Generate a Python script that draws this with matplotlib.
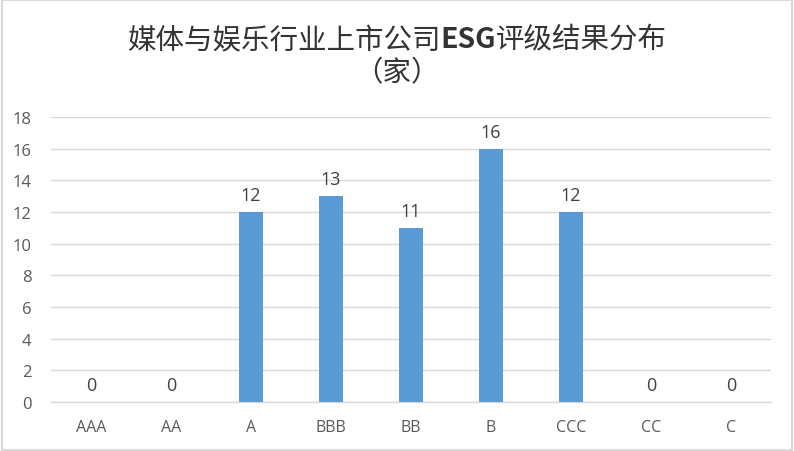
import matplotlib
matplotlib.use("Agg")
import matplotlib.pyplot as plt
from matplotlib.patches import Rectangle

plt.rcParams['font.family'] = ['Noto Sans CJK SC', 'DejaVu Sans']

categories = ["AAA", "AA", "A", "BBB", "BB", "B", "CCC", "CC", "C"]
values = [0, 0, 12, 13, 11, 16, 12, 0, 0]
yticks = [0, 2, 4, 6, 8, 10, 12, 14, 16, 18]
title_parts = [("媒体与娱乐行业上市公司", "normal"), ("ESG", "bold"), ("评级结果分布", "normal")]
subtitle = "（家）"

fig = plt.figure(figsize=(7.94, 4.52), dpi=100)
ax = fig.add_axes([51/794, 1-403/452, (771-51)/794, (403-118)/452])

x = list(range(len(categories)))
ax.bar(x, values, width=0.29, color="#5b9bd5", zorder=3)
for xi, v in zip(x, values):
    ax.text(xi, v + 0.5, str(v), ha="center", va="bottom", fontsize=13, color="#404040",
            family=['Open Sans', 'DejaVu Sans'])

ax.set_xlim(-0.5, len(categories) - 0.5)
ax.set_ylim(0, 18)
ax.set_yticks(yticks)
ax.set_yticklabels([str(t) for t in yticks], fontsize=12, color="#595959",
                   family=['Open Sans', 'DejaVu Sans'])
ax.set_xticks(x)
ax.set_xticklabels(categories, fontsize=11.5, color="#595959", family=['Open Sans', 'DejaVu Sans'])
ax.tick_params(axis='both', length=0)
ax.tick_params(axis='x', pad=12)
ax.tick_params(axis='y', pad=14)
ax.grid(axis='y', color="#d9d9d9", linewidth=1, zorder=0)
for s in ["top", "right", "left"]:
    ax.spines[s].set_visible(False)
ax.spines["bottom"].set_color("#d9d9d9")
ax.spines["bottom"].set_linewidth(1)

# title built from parts so "ESG" can be bold
fs = 20.5
tcolor = "#333333"
renderer = fig.canvas.get_renderer()
texts = []
for s, w in title_parts:
    t = fig.text(0, 1-40/452, s, ha="left", va="center", fontsize=fs, color=tcolor, fontweight=w)
    texts.append(t)
widths = [t.get_window_extent(renderer).width for t in texts]
total = sum(widths)
xstart = (794 - total) / 2
for t, w in zip(texts, widths):
    t.set_x(xstart / 794)
    xstart += w
fig.text(0.5, 1-73/452, subtitle, ha="center", va="center", fontsize=fs, color=tcolor)

fig.patches.append(Rectangle((0.002, 0.002), 0.996, 0.996, transform=fig.transFigure,
                             fill=False, edgecolor="#d9d9d9", linewidth=1.5))

fig.savefig("out.png", dpi=100, facecolor="white")
